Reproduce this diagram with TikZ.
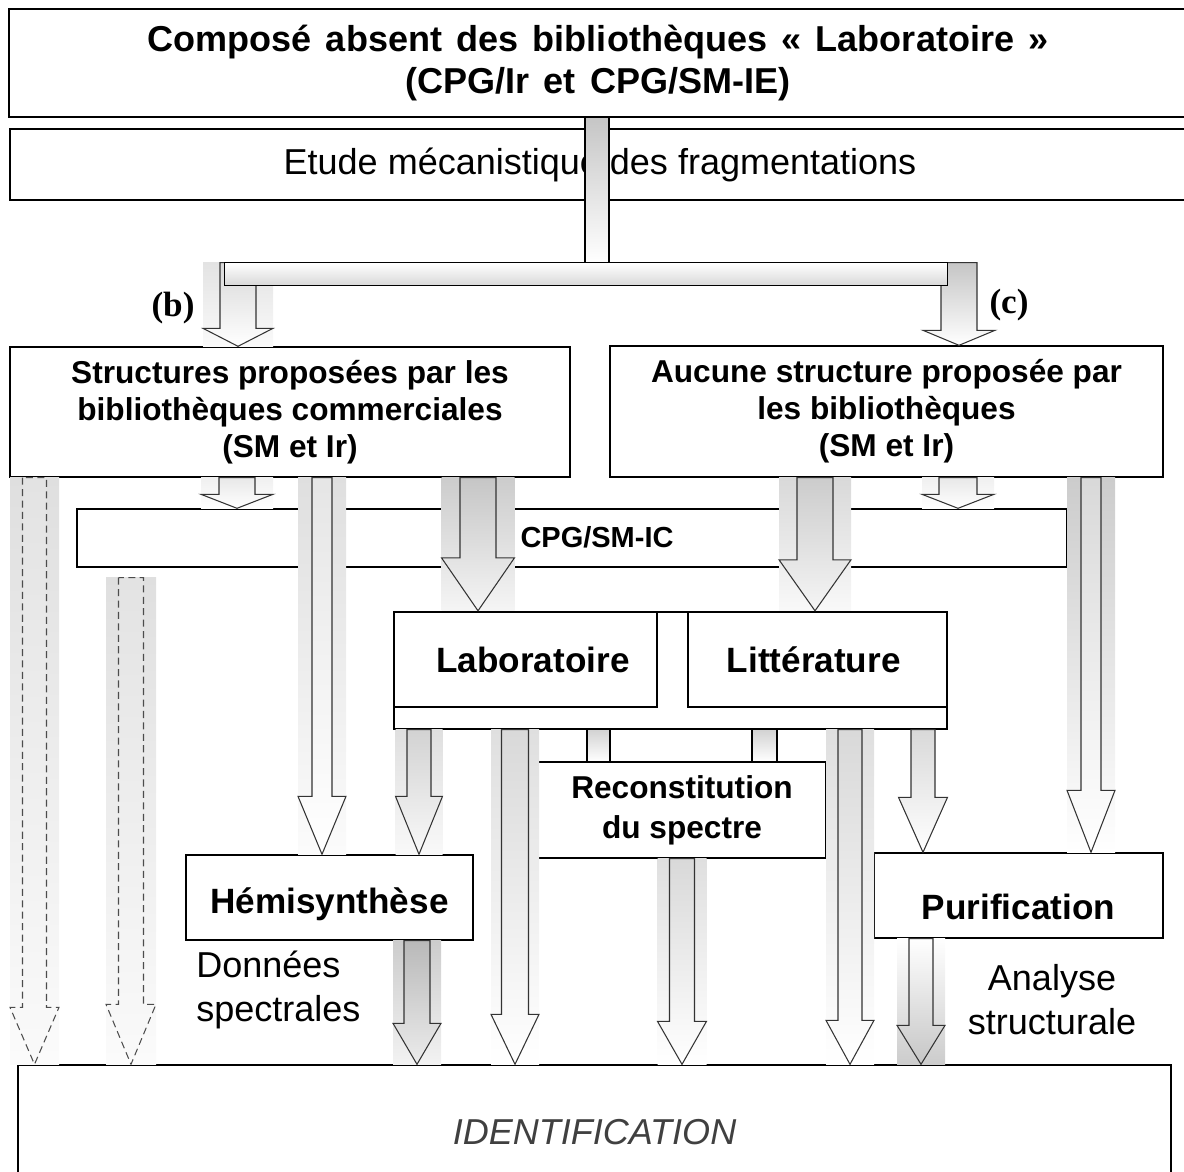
\documentclass[tikz,border=0pt]{standalone}
\usepackage{fontspec}
\setmainfont{Liberation Sans}
\newfontfamily\labfont{Liberation Serif}
\usetikzlibrary{calc,positioning}
\newcommand{\widespace}{\spaceskip=8.2pt\relax}
\tikzset{
	box/.style = {draw, fill=white, line width=0.8pt, inner sep=0pt, align=center},
	thickbox/.style = {box, line width=1.4pt},
	ttl/.style = {font=\fontsize{20.5}{24}\selectfont\bfseries},
	sub/.style = {font=\fontsize{18}{21}\selectfont\bfseries},
	stage/.style = {font=\fontsize{20}{23}\selectfont\bfseries},
	plain/.style = {font=\fontsize{20.5}{25}\selectfont, align=center, inner sep=0pt},
	connbar/.style = {draw, line width=0.6pt, top color=gray!45, bottom color=white},
	arrfill/.style 2 args = {draw=black!80, line width=0.6pt, top color=#1, bottom color=#2},
	bgfill/.style 2 args = {top color=#1, bottom color=#2},
	dasharr/.style = {arrfill={gray!22}{gray!4}, draw=black!70, dash pattern=on 4pt off 2.5pt}
}
% block arrow: style, background style, start, tip, shaft half width, head half width, head length
\newcommand{\blockarrow}[7]{%
	\coordinate (s) at #3;
	\coordinate (e) at #4;
	\coordinate (h) at ($(e)+(0,-#7)$);
	\coordinate (sl) at ($(s)+(-#5,0)$);
	\coordinate (sr) at ($(s)+(#5,0)$);
	\path[#2] ($(s)+(-#6,0)$) rectangle ($(e)+(#6,0)$);
	\path[#1] (sl) -- (sl |- h) -- ($(h)+(-#6,0)$) -- (e) -- ($(h)+(#6,0)$) -- (sr |- h) -- (sr) -- cycle;
}

\begin{document}
\begin{tikzpicture}[x=0.02cm, y=-0.02cm]
    \useasboundingbox (0,0) rectangle (1184,1171);

    % boxes
    \node[box, ttl, minimum width=23.56cm, minimum height=2.16cm] (title) at (598,63) {\widespace Composé absent des bibliothèques « Laboratoire »\\\widespace(CPG/Ir et CPG/SM-IE)};
    \node[box, plain, minimum width=23.6cm, minimum height=1.42cm] (etude) at (600,164.5) {Etude mécanistique des fragmentations};
    \node[box, sub, minimum width=11.2cm, minimum height=2.6cm] (struct) at (290,412) {Structures proposées par les\\bibliothèques commerciales\\(SM et Ir)};
    \node[box, sub, minimum width=11.06cm, minimum height=2.62cm] (aucune) at (886.5,411.5) {Aucune structure proposée par\\les bibliothèques\\(SM et Ir)};
    \node[box, minimum width=19.8cm, minimum height=1.16cm] (cpg) at (572,538) {};
    \node[font=\fontsize{16.5}{19}\selectfont\bfseries] (cpgtxt) at (597,537) {CPG/SM-IC};
    \node[box, minimum width=11.06cm, minimum height=2.34cm] (labolit) at (670.5,670.5) {};
    \node[thickbox, stage, minimum width=5.26cm, minimum height=1.9cm] (labo) at (525.5,659.5) {\hspace{0.3cm}Laboratoire};
    \node[thickbox, stage, minimum width=5.18cm, minimum height=1.9cm] (litt) at (817.5,659.5) {Littérature\hspace{0.15cm}};
    \node[box, font=\fontsize{18}{22.8}\selectfont\bfseries, minimum width=5.76cm, minimum height=1.92cm] (recon) at (682,810) {Reconstitution\\du spectre};
    \node[box, stage, minimum width=5.74cm, minimum height=1.7cm, text height=0.78cm] (hemi) at (329.5,897.5) {Hémisynthèse};
    \node[box, stage, minimum width=5.78cm, minimum height=1.7cm, text height=0.95cm] (purif) at (1018.5,895.5) {Purification};
    \node[box, font=\fontsize{20.5}{24}\selectfont\itshape, text=black!75, minimum width=23.06cm, minimum height=2.5cm, text height=0.7cm] (ident) at (594.5,1127.5) {IDENTIFICATION};

    \node[plain, anchor=west, align=left] (donnees) at (196,990) {Données\\spectrales};
    \node[plain] (analyse) at (1052,1000) {Analyse\\structurale};
    \node[font=\fontsize{20}{24}\labfont\bfseries] (blab) at (173,308) {(b)};
    \node[font=\fontsize{20}{24}\labfont\bfseries] (clab) at (1009,305) {(c)};

    % connectors
    \node[minimum width=14.44cm, minimum height=0.44cm, inner sep=0pt] (hbar) at (586,274) {};
    \blockarrow{arrfill={gray!30}{white}}{bgfill={gray!22}{gray!4}}{(hbar.north -| 238,0)}{(struct.north -| 238,0)}{18}{35}{18}
    \blockarrow{arrfill={gray!45}{white}}{}{(hbar.north -| 959,0)}{(aucune.north -| 959,0)}{18}{36}{15}
    \draw[connbar, top color=white, bottom color=gray!30] (hbar.north west) rectangle (hbar.south east);
    \draw[connbar] ($(title.south -| 597,0)+(-12,0)$) rectangle ($(hbar.north -| 597,0)+(12,0)$);

    \blockarrow{arrfill={gray!18}{white}}{bgfill={gray!12}{white}}{(struct.south -| 237,0)}{(cpg.north -| 237,0)}{18}{36}{14}
    \blockarrow{arrfill={gray!18}{white}}{bgfill={gray!12}{white}}{(aucune.south -| 958,0)}{(cpg.north -| 958,0)}{19}{36}{14}

    \blockarrow{dasharr}{bgfill={gray!25}{gray!3}}{(struct.south -| 34.5,0)}{(ident.north -| 34.5,0)}{12}{24.5}{57}
    \blockarrow{dasharr}{bgfill={gray!25}{gray!3}}{($(cpg.south -| 131,0)+(0,10)$)}{(ident.north -| 131,0)}{12.5}{25}{60}
    \blockarrow{arrfill={gray!20}{white}}{bgfill={gray!25}{gray!3}}{(struct.south -| 322,0)}{(hemi.north -| 322,0)}{10}{24}{58}
    \blockarrow{arrfill={gray!45}{gray!8}}{bgfill={gray!40}{gray!8}}{(struct.south -| 478,0)}{(labo.north -| 478,0)}{18}{36.5}{53}
    \blockarrow{arrfill={gray!40}{gray!8}}{bgfill={gray!30}{gray!5}}{(aucune.south -| 815,0)}{(litt.north -| 815,0)}{18}{36}{51}
    \blockarrow{arrfill={gray!30}{white}}{bgfill={gray!40}{white}}{(aucune.south -| 1091,0)}{(purif.north -| 1091,0)}{10}{24}{62}

    \blockarrow{arrfill={gray!35}{gray!5}}{bgfill={gray!25}{gray!5}}{(labolit.south -| 419,0)}{(hemi.north -| 419,0)}{12}{23.5}{58}
    \blockarrow{arrfill={gray!30}{white}}{bgfill={gray!25}{white}}{(labolit.south -| 515,0)}{(ident.north -| 515,0)}{13.5}{24}{50}
    \blockarrow{arrfill={gray!30}{white}}{bgfill={gray!25}{white}}{(labolit.south -| 850,0)}{(ident.north -| 850,0)}{12}{24}{44}
    \blockarrow{arrfill={gray!30}{white}}{}{(labolit.south -| 923,0)}{(purif.north -| 923,0)}{12}{24.5}{55}
    \draw[connbar, top color=gray!35] (labolit.south -| 587,0) rectangle (recon.north -| 610,0);
    \draw[connbar, top color=gray!35] (labolit.south -| 752,0) rectangle (recon.north -| 777,0);

    \blockarrow{arrfill={gray!55}{gray!15}}{bgfill={gray!40}{gray!10}}{(hemi.south -| 417,0)}{(ident.north -| 417,0)}{13}{24}{41}
    \blockarrow{arrfill={gray!30}{white}}{bgfill={gray!25}{white}}{(recon.south -| 682,0)}{(ident.north -| 682,0)}{12.5}{24.5}{43}
    \blockarrow{arrfill={white}{gray!45}}{bgfill={white}{gray!40}}{(purif.south -| 921,0)}{(ident.north -| 921,0)}{12}{24}{39}
\end{tikzpicture}
\end{document}
